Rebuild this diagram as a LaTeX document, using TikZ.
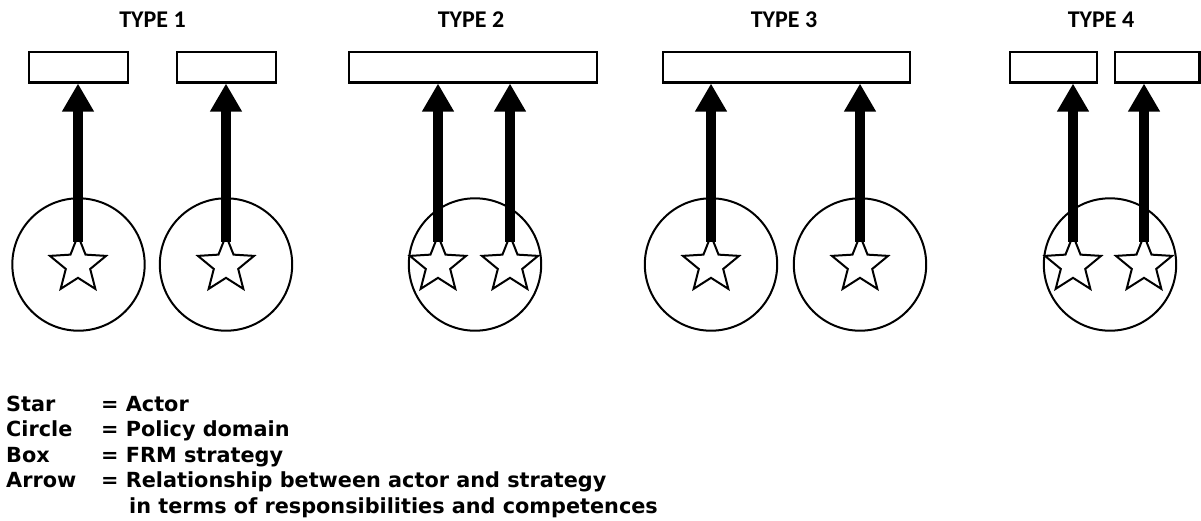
\documentclass[tikz,border=0pt]{standalone}
\usepackage{fontspec}
\setmainfont{DejaVu Sans}
\newfontfamily\titlefont{Carlito}
\usetikzlibrary{shapes.geometric,arrows.meta}
\begin{document}
\begin{tikzpicture}[x=1pt,y=-1pt,
  strat/.style={draw,line width=2.2pt,minimum height=30.8pt,inner sep=0pt},
  policydomain/.style={draw,circle,line width=2pt,minimum size=132.4pt,inner sep=0pt},
  actor/.style={draw,star,star points=5,star point ratio=2.3,minimum size=59pt,inner sep=0pt,fill=white,line width=2pt},
  rel/.style={line width=9.8pt,-{Triangle[width=30pt,length=28pt]}},
  typetitle/.style={font=\titlefont\bfseries\fontsize{24}{28}\selectfont,inner sep=0pt,anchor=base},
  keytext/.style={font=\bfseries\fontsize{20.8}{25}\selectfont,inner sep=0pt,anchor=base west}]
\fill[white] (0,0) rectangle (1201,520);
\useasboundingbox (0,0) rectangle (1201,520);

% titles
\node[typetitle] (t1) at (152.5,27.3) {TYPE 1};
\node[typetitle] (t2) at (471,27.3) {TYPE 2};
\node[typetitle] (t3) at (784,27.3) {TYPE 3};
\node[typetitle] (t4) at (1101,27.3) {TYPE 4};

% boxes (FRM strategies)
\node[strat,minimum width=98.8pt] (b1a) at (78.5,67) {};
\node[strat,minimum width=98.8pt] (b1b) at (226.5,67) {};
\node[strat,minimum width=247.8pt] (b2) at (473,67) {};
\node[strat,minimum width=246.8pt] (b3) at (786.5,67) {};
\node[strat,minimum width=86.8pt] (b4a) at (1053.5,67) {};
\node[strat,minimum width=84.3pt] (b4b) at (1157.25,67) {};

% circles (policy domains)
\node[policydomain] (c1a) at (78.5,264.5) {};
\node[policydomain] (c1b) at (226,264.5) {};
\node[policydomain] (c2) at (475,264.5) {};
\node[policydomain] (c3a) at (711,264.5) {};
\node[policydomain] (c3b) at (860,264.5) {};
\node[policydomain] (c4) at (1110,264.5) {};

% stars (actors)
\node[actor] (s1a) at (78,265) {};
\node[actor] (s1b) at (226,265) {};
\node[actor] (s2a) at (438,265) {};
\node[actor] (s2b) at (510,265) {};
\node[actor] (s3a) at (711,265) {};
\node[actor] (s3b) at (860,265) {};
\node[actor] (s4a) at (1073,265) {};
\node[actor] (s4b) at (1144,265) {};

% arrows (relationships), drawn over the top point of each star
\draw[rel] ([yshift=23.3pt]s1a.center) -- (s1a.center |- b1a.south);
\draw[rel] ([yshift=23.3pt]s1b.center) -- (s1b.center |- b1b.south);
\draw[rel] ([yshift=23.3pt]s2a.center) -- (s2a.center |- b2.south);
\draw[rel] ([yshift=23.3pt]s2b.center) -- (s2b.center |- b2.south);
\draw[rel] ([yshift=23.3pt]s3a.center) -- (s3a.center |- b3.south);
\draw[rel] ([yshift=23.3pt]s3b.center) -- (s3b.center |- b3.south);
\draw[rel] ([yshift=23.3pt]s4a.center) -- (s4a.center |- b4a.south);
\draw[rel] ([yshift=23.3pt]s4b.center) -- (s4b.center |- b4b.south);

% legend
\node[keytext] (k1) at (6,411) {Star};
\node[keytext] (v1) at (101,411) {= Actor};
\node[keytext] (k2) at (6,436.5) {Circle};
\node[keytext] (v2) at (101,436.5) {= Policy domain};
\node[keytext] (k3) at (6,462) {Box};
\node[keytext] (v3) at (101,462) {= FRM strategy};
\node[keytext] (k4) at (6,487.5) {Arrow};
\node[keytext] (v4) at (101,487.5) {= Relationship between actor and strategy};
\node[keytext] (v5) at (129,513) {in terms of responsibilities and competences};
\end{tikzpicture}
\end{document}
